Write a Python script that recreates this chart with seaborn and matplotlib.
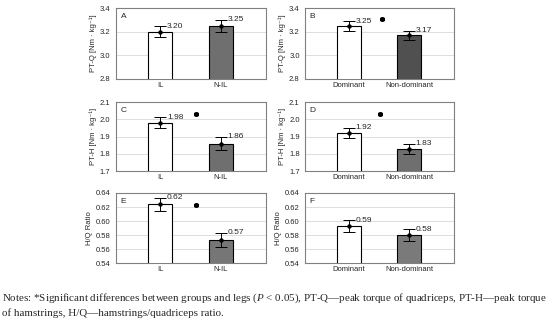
import pandas as pd
import matplotlib
matplotlib.use("Agg")
import matplotlib.pyplot as plt
import seaborn as sns

# Datos
groups_il = ["IL", "N-IL"]
groups_leg = ["Dominant", "Non-dominant"]

ptq_il = [3.20, 3.25]
ptq_il_err = [0.045, 0.05]
ptq_leg = [3.25, 3.17]
ptq_leg_err = [0.04, 0.04]

pth_il = [1.98, 1.86]
pth_il_err = [0.033, 0.04]
pth_leg = [1.92, 1.83]
pth_leg_err = [0.03, 0.028]

hq_il = [0.624, 0.573]
hq_il_err = [0.009, 0.01]
hq_leg = [0.593, 0.580]
hq_leg_err = [0.008, 0.008]

labels_il_ptq = ["3.20", "3.25"]
labels_leg_ptq = ["3.25", "3.17"]
labels_il_pth = ["1.98", "1.86"]
labels_leg_pth = ["1.92", "1.83"]
labels_il_hq = ["0.62", "0.57"]
labels_leg_hq = ["0.59", "0.58"]

sns.set_style("white")
plt.rcParams["font.family"] = ["Liberation Sans", "DejaVu Sans"]
plt.rcParams["mathtext.fontset"] = "custom"
plt.rcParams["mathtext.rm"] = "Liberation Serif"
plt.rcParams["mathtext.it"] = "Liberation Serif:italic"

fig = plt.figure(figsize=(5.5, 3.26), dpi=100)

panels = [
    # letra, grupos, valores, errores, etiquetas, ylabel, ylim, yticks, estrella, color oscuro, posición
    ("A", groups_il, ptq_il, ptq_il_err, labels_il_ptq, "PT-Q [Nm · kg⁻¹]", (2.8, 3.4), [2.8, 3.0, 3.2, 3.4], None, "#6f6f6f", [0.211, 0.758, 0.273, 0.217]),
    ("B", groups_leg, ptq_leg, ptq_leg_err, labels_leg_ptq, "PT-Q [Nm · kg⁻¹]", (2.8, 3.4), [2.8, 3.0, 3.2, 3.4], (0.55, 3.31), "#505050", [0.555, 0.758, 0.271, 0.217]),
    ("C", groups_il, pth_il, pth_il_err, labels_il_pth, "PT-H [Nm · kg⁻¹]", (1.7, 2.1), [1.7, 1.8, 1.9, 2.0, 2.1], (0.59, 2.03), "#6f6f6f", [0.211, 0.475, 0.273, 0.212]),
    ("D", groups_leg, pth_leg, pth_leg_err, labels_leg_pth, "PT-H [Nm · kg⁻¹]", (1.7, 2.1), [1.7, 1.8, 1.9, 2.0, 2.1], (0.52, 2.03), "#6f6f6f", [0.555, 0.475, 0.271, 0.212]),
    ("E", groups_il, hq_il, hq_il_err, labels_il_hq, "H/Q Ratio", (0.54, 0.64), [0.54, 0.56, 0.58, 0.60, 0.62, 0.64], (0.59, 0.623), "#767676", [0.211, 0.193, 0.273, 0.215]),
    ("F", groups_leg, hq_leg, hq_leg_err, labels_leg_hq, "H/Q Ratio", (0.54, 0.64), [0.54, 0.56, 0.58, 0.60, 0.62, 0.64], None, "#7a7a7a", [0.555, 0.193, 0.271, 0.215]),
]

for letter, groups, vals, errs, labs, ylab, ylim, yticks, star, dark, pos in panels:
    ax = fig.add_axes(pos)
    df = pd.DataFrame({"group": groups, "value": vals})
    sns.barplot(data=df, x="group", y="value", hue="group",
                palette=["white", dark], edgecolor="black", linewidth=0.8,
                width=0.4, errorbar=None, legend=False, ax=ax, zorder=3)
    ax.errorbar(range(len(vals)), vals, yerr=errs, fmt="o", color="black",
                markersize=2.2, elinewidth=0.7, capsize=4.5, capthick=0.7, zorder=4)
    for i, (v, e, t) in enumerate(zip(vals, errs, labs)):
        ax.text(i + 0.11, v + e, t, fontsize=6, va="center", ha="left", zorder=5)
    if star is not None:
        ax.plot(star[0], star[1], marker=(6, 2, 0), markersize=3.5, markeredgewidth=1.2,
                color="black", linestyle="none")
    ax.set_ylim(*ylim)
    ax.set_yticks(yticks)
    ax.set_yticklabels([f"{t:.1f}" if ylim[1] > 1 else f"{t:.2f}" for t in yticks])
    ax.set_xlim(-0.73, 1.75)
    ax.grid(axis="y", color="#d8d8d8", linewidth=0.6, zorder=0)
    ax.set_axisbelow(True)
    ax.set_xlabel("")
    ax.set_ylabel(ylab, fontsize=5.5, labelpad=2)
    ax.tick_params(axis="both", labelsize=5.5, length=2, width=0.5, pad=2, direction="out")
    ax.tick_params(axis="x", length=0)
    for s in ax.spines.values():
        s.set_visible(True)
        s.set_color("#808080")
        s.set_linewidth(0.8)
    ax.text(0.03, 0.93, letter, transform=ax.transAxes, fontsize=6, ha="left", va="top")

note_font = ["Liberation Serif", "DejaVu Serif"]
fig.text(0.004, 0.086,
         "Notes: *Significant differences between groups and legs ($\\it{P}$ < 0.05), PT-Q\u2014peak torque of quadriceps, PT-H\u2014peak torque",
         fontsize=7.9, family=note_font, ha="left", va="center")
fig.text(0.004, 0.040, "of hamstrings, H/Q\u2014hamstrings/quadriceps ratio.",
         fontsize=7.9, family=note_font, ha="left", va="center")

fig.savefig("out.png", dpi=100)
